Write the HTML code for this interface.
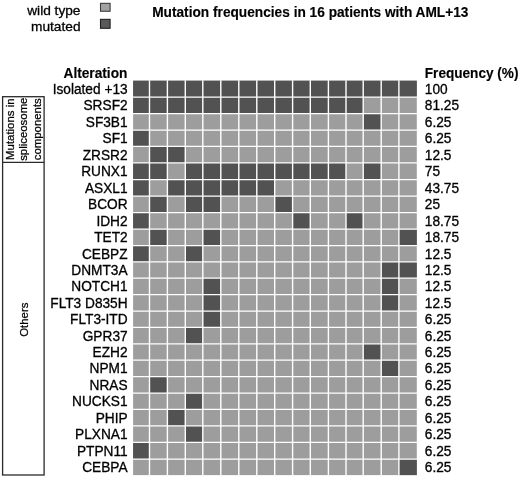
<!DOCTYPE html>
<html><head><meta charset="utf-8"><title>Mutation frequencies in 16 patients with AML+13</title>
<style>
html,body{margin:0;padding:0;background:#fff;}
body{width:520px;height:478px;position:relative;overflow:hidden;font-family:"Liberation Sans",Arial,sans-serif;color:#000;}
.t{position:absolute;white-space:nowrap;transform:scaleY(1.04);transform-origin:0 12.75px;-webkit-text-stroke:0.3px #000;font-size:13.7px;line-height:16px;height:16px;}
.r{text-align:right;}
.b{font-weight:bold;-webkit-text-stroke:0.15px #000;}
.v{position:absolute;white-space:nowrap;-webkit-text-stroke:0.25px #000;font-size:11.4px;line-height:13.25px;text-align:center;transform-origin:0 0;transform:rotate(-90deg);}
svg{position:absolute;left:0;top:0;}
</style></head><body>

<svg width="520" height="478" viewBox="0 0 520 478">
<rect x="133.10" y="80.70" width="283.70" height="394.40" fill="#9d9d9d"/>
<rect x="133.10" y="80.70" width="283.70" height="16.40" fill="#525252"/>
<rect x="133.10" y="97.10" width="230.10" height="16.60" fill="#525252"/>
<rect x="363.20" y="113.70" width="18.00" height="16.40" fill="#525252"/>
<rect x="133.10" y="130.10" width="16.40" height="16.30" fill="#525252"/>
<rect x="149.50" y="146.40" width="35.80" height="16.50" fill="#525252"/>
<rect x="133.10" y="162.90" width="34.30" height="16.60" fill="#525252"/>
<rect x="185.30" y="162.90" width="160.70" height="16.60" fill="#525252"/>
<rect x="363.20" y="162.90" width="18.00" height="16.60" fill="#525252"/>
<rect x="133.10" y="179.50" width="16.40" height="16.60" fill="#525252"/>
<rect x="167.40" y="179.50" width="107.30" height="16.60" fill="#525252"/>
<rect x="149.50" y="196.10" width="17.90" height="16.40" fill="#525252"/>
<rect x="185.30" y="196.10" width="35.50" height="16.40" fill="#525252"/>
<rect x="274.70" y="196.10" width="17.90" height="16.40" fill="#525252"/>
<rect x="133.10" y="212.50" width="16.40" height="16.70" fill="#525252"/>
<rect x="292.60" y="212.50" width="17.70" height="16.70" fill="#525252"/>
<rect x="346.00" y="212.50" width="17.20" height="16.70" fill="#525252"/>
<rect x="149.50" y="229.20" width="17.90" height="16.30" fill="#525252"/>
<rect x="202.80" y="229.20" width="18.00" height="16.30" fill="#525252"/>
<rect x="398.90" y="229.20" width="17.90" height="16.30" fill="#525252"/>
<rect x="133.10" y="245.50" width="16.40" height="16.40" fill="#525252"/>
<rect x="185.30" y="245.50" width="17.50" height="16.40" fill="#525252"/>
<rect x="381.20" y="261.90" width="35.60" height="16.20" fill="#525252"/>
<rect x="202.80" y="278.10" width="18.00" height="16.50" fill="#525252"/>
<rect x="381.20" y="278.10" width="17.70" height="16.50" fill="#525252"/>
<rect x="202.80" y="294.60" width="18.00" height="16.40" fill="#525252"/>
<rect x="381.20" y="294.60" width="17.70" height="16.40" fill="#525252"/>
<rect x="202.80" y="311.00" width="18.00" height="16.40" fill="#525252"/>
<rect x="185.30" y="327.40" width="17.50" height="16.35" fill="#525252"/>
<rect x="363.20" y="343.75" width="18.00" height="16.35" fill="#525252"/>
<rect x="381.20" y="360.10" width="17.70" height="16.40" fill="#525252"/>
<rect x="149.50" y="376.50" width="17.90" height="16.50" fill="#525252"/>
<rect x="185.30" y="393.00" width="17.50" height="16.30" fill="#525252"/>
<rect x="167.40" y="409.30" width="17.90" height="16.50" fill="#525252"/>
<rect x="185.30" y="425.80" width="17.50" height="16.60" fill="#525252"/>
<rect x="133.10" y="442.40" width="16.40" height="16.60" fill="#525252"/>
<rect x="398.90" y="459.00" width="17.90" height="16.10" fill="#525252"/>
<path d="M149.50 80.20V475.60M167.40 80.20V475.60M185.30 80.20V475.60M202.80 80.20V475.60M220.80 80.20V475.60M238.80 80.20V475.60M256.80 80.20V475.60M274.70 80.20V475.60M292.60 80.20V475.60M310.30 80.20V475.60M328.40 80.20V475.60M346.00 80.20V475.60M363.20 80.20V475.60M381.20 80.20V475.60M398.90 80.20V475.60" stroke="#fff" stroke-width="1.4" fill="none"/>
<path d="M132.60 97.10H417.30M132.60 113.70H417.30M132.60 130.10H417.30M132.60 146.40H417.30M132.60 162.90H417.30M132.60 179.50H417.30M132.60 196.10H417.30M132.60 212.50H417.30M132.60 229.20H417.30M132.60 245.50H417.30M132.60 261.90H417.30M132.60 278.10H417.30M132.60 294.60H417.30M132.60 311.00H417.30M132.60 327.40H417.30M132.60 343.75H417.30M132.60 360.10H417.30M132.60 376.50H417.30M132.60 393.00H417.30M132.60 409.30H417.30M132.60 425.80H417.30M132.60 442.40H417.30M132.60 459.00H417.30" stroke="#fff" stroke-width="1.25" fill="none"/>
<rect x="100.5" y="3.35" width="9.6" height="7.9" fill="#a2a2a2" stroke="#3c3c3c" stroke-width="1.1"/>
<rect x="100.5" y="19.35" width="9.6" height="8.95" fill="#5a5a5a" stroke="#222" stroke-width="1.1"/>
<rect x="2.6" y="96.7" width="41.5" height="378.3" fill="none" stroke="#2a2a2a" stroke-width="1.3"/>
<line x1="2.6" y1="162.4" x2="44.1" y2="162.4" stroke="#2a2a2a" stroke-width="1.3"/>
</svg>
<div class="t r" style="top:3px;right:439.50px;transform:none;">wild type</div>
<div class="t r" style="top:19px;right:439.50px;transform:none;">mutated</div>
<div class="t b" style="top:5px;left:152.20px;transform:scaleY(1.02);">Mutation frequencies in 16 patients with AML+13</div>
<div class="t b r" style="top:66px;right:392.60px;transform:scaleY(1.03);">Alteration</div>
<div class="t b" style="top:66px;left:424.80px;transform:scaleY(1.03);font-size:13.6px;">Frequency (%)</div>
<div class="t r" style="top:82px;right:392.40px;">Isolated +13</div>
<div class="t " style="top:82px;left:424.80px;">100</div>
<div class="t r" style="top:98px;right:392.40px;">SRSF2</div>
<div class="t " style="top:98px;left:424.80px;">81.25</div>
<div class="t r" style="top:115px;right:392.40px;">SF3B1</div>
<div class="t " style="top:115px;left:424.80px;">6.25</div>
<div class="t r" style="top:131px;right:392.40px;">SF1</div>
<div class="t " style="top:131px;left:424.80px;">6.25</div>
<div class="t r" style="top:148px;right:392.40px;">ZRSR2</div>
<div class="t " style="top:148px;left:424.80px;">12.5</div>
<div class="t r" style="top:164px;right:392.40px;">RUNX1</div>
<div class="t " style="top:164px;left:424.80px;">75</div>
<div class="t r" style="top:181px;right:392.40px;">ASXL1</div>
<div class="t " style="top:181px;left:424.80px;">43.75</div>
<div class="t r" style="top:197px;right:392.40px;">BCOR</div>
<div class="t " style="top:197px;left:424.80px;">25</div>
<div class="t r" style="top:214px;right:392.40px;">IDH2</div>
<div class="t " style="top:214px;left:424.80px;">18.75</div>
<div class="t r" style="top:230px;right:392.40px;">TET2</div>
<div class="t " style="top:230px;left:424.80px;">18.75</div>
<div class="t r" style="top:247px;right:392.40px;">CEBPZ</div>
<div class="t " style="top:247px;left:424.80px;">12.5</div>
<div class="t r" style="top:263px;right:392.40px;">DNMT3A</div>
<div class="t " style="top:263px;left:424.80px;">12.5</div>
<div class="t r" style="top:279px;right:392.40px;">NOTCH1</div>
<div class="t " style="top:279px;left:424.80px;">12.5</div>
<div class="t r" style="top:296px;right:392.40px;">FLT3 D835H</div>
<div class="t " style="top:296px;left:424.80px;">12.5</div>
<div class="t r" style="top:312px;right:392.40px;">FLT3-ITD</div>
<div class="t " style="top:312px;left:424.80px;">6.25</div>
<div class="t r" style="top:329px;right:392.40px;">GPR37</div>
<div class="t " style="top:329px;left:424.80px;">6.25</div>
<div class="t r" style="top:345px;right:392.40px;">EZH2</div>
<div class="t " style="top:345px;left:424.80px;">6.25</div>
<div class="t r" style="top:361px;right:392.40px;">NPM1</div>
<div class="t " style="top:361px;left:424.80px;">6.25</div>
<div class="t r" style="top:378px;right:392.40px;">NRAS</div>
<div class="t " style="top:378px;left:424.80px;">6.25</div>
<div class="t r" style="top:394px;right:392.40px;">NUCKS1</div>
<div class="t " style="top:394px;left:424.80px;">6.25</div>
<div class="t r" style="top:411px;right:392.40px;">PHIP</div>
<div class="t " style="top:411px;left:424.80px;">6.25</div>
<div class="t r" style="top:427px;right:392.40px;">PLXNA1</div>
<div class="t " style="top:427px;left:424.80px;">6.25</div>
<div class="t r" style="top:444px;right:392.40px;">PTPN11</div>
<div class="t " style="top:444px;left:424.80px;">6.25</div>
<div class="t r" style="top:460px;right:392.40px;">CEBPA</div>
<div class="t " style="top:460px;left:424.80px;">6.25</div>
<div class="v" style="left:3.5px;top:162.3px;width:65.6px;">Mutations in<br>spliceosome<br>components</div>
<div class="v" style="left:17.8px;top:475.5px;width:312.7px;">Others</div>
</body></html>
